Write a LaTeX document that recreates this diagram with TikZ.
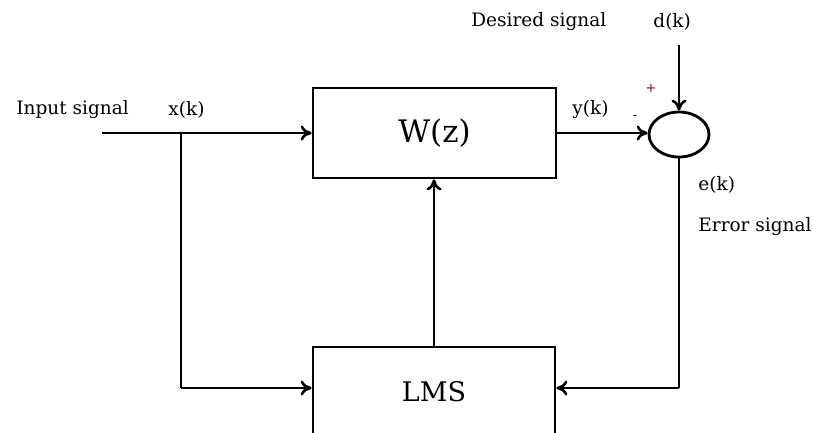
\documentclass[tikz,border=0pt]{standalone}
\usepackage{fontspec}
\setmainfont{DejaVu Serif}
\usetikzlibrary{arrows.meta,shapes.geometric}
\begin{document}
\begin{tikzpicture}[x=1pt,y=-1pt,
  line width=2.8pt,
  blockbox/.style={draw, rectangle, line width=2.8pt, inner sep=0pt},
  sig/.style={-{To[length=11pt,width=15pt,line width=2.6pt]}},
  lbl/.style={font=\fontsize{18.5}{22}\selectfont, inner sep=0pt, anchor=west},
  sgn/.style={font=\fontsize{13}{15}\selectfont, inner sep=0pt}]
  \useasboundingbox (0,0) rectangle (813,432);

  % blocks
  \node[blockbox, minimum width=243pt, minimum height=90pt,
        font=\fontsize{31}{36}\selectfont] (W) at (434.5,133) {W(z)};
  \node[blockbox, minimum width=242pt, minimum height=90pt,
        font=\fontsize{27}{32}\selectfont] (L) at (434,392) {LMS};
  \node[draw, ellipse, line width=2.8pt, minimum width=60pt, minimum height=45pt,
        inner sep=0pt] (S) at (679,134.5) {};

  % junction and corner points
  \coordinate (in) at (102,133);
  \coordinate (br) at (181,133);
  \coordinate (d) at (679,45);
  \coordinate (xl) at (181,388);
  \coordinate (er) at (679,388);

  % signal paths
  \draw[sig] (in) -- (W.west);
  \draw (br) -- (xl);
  \draw[sig] (xl) -- (xl -| L.west);
  \draw[sig] (W.east) -- (W.east -| S.west);
  \draw[sig] (d) -- (S.north);
  \draw (S.south) -- (er);
  \draw[sig] (er) -- (er -| L.east);
  \draw[sig] (L.north) -- (L.north |- W.south);

  % labels
  \node[lbl] (tin) at (15,110) {Input signal};
  \node[lbl] (tx) at (167,110) {x(k)};
  \node[lbl] (ty) at (571,110) {y(k)};
  \node[lbl] (tdes) at (470,22) {Desired signal};
  \node[lbl] (td) at (652,22) {d(k)};
  \node[lbl] (te) at (697,185) {e(k)};
  \node[lbl] (terr) at (697,227) {Error signal};
  \node[sgn, text=red!50!black] (tp) at (651,88) {+};
  \node[sgn] (tm) at (635,118) {-};
\end{tikzpicture}
\end{document}
